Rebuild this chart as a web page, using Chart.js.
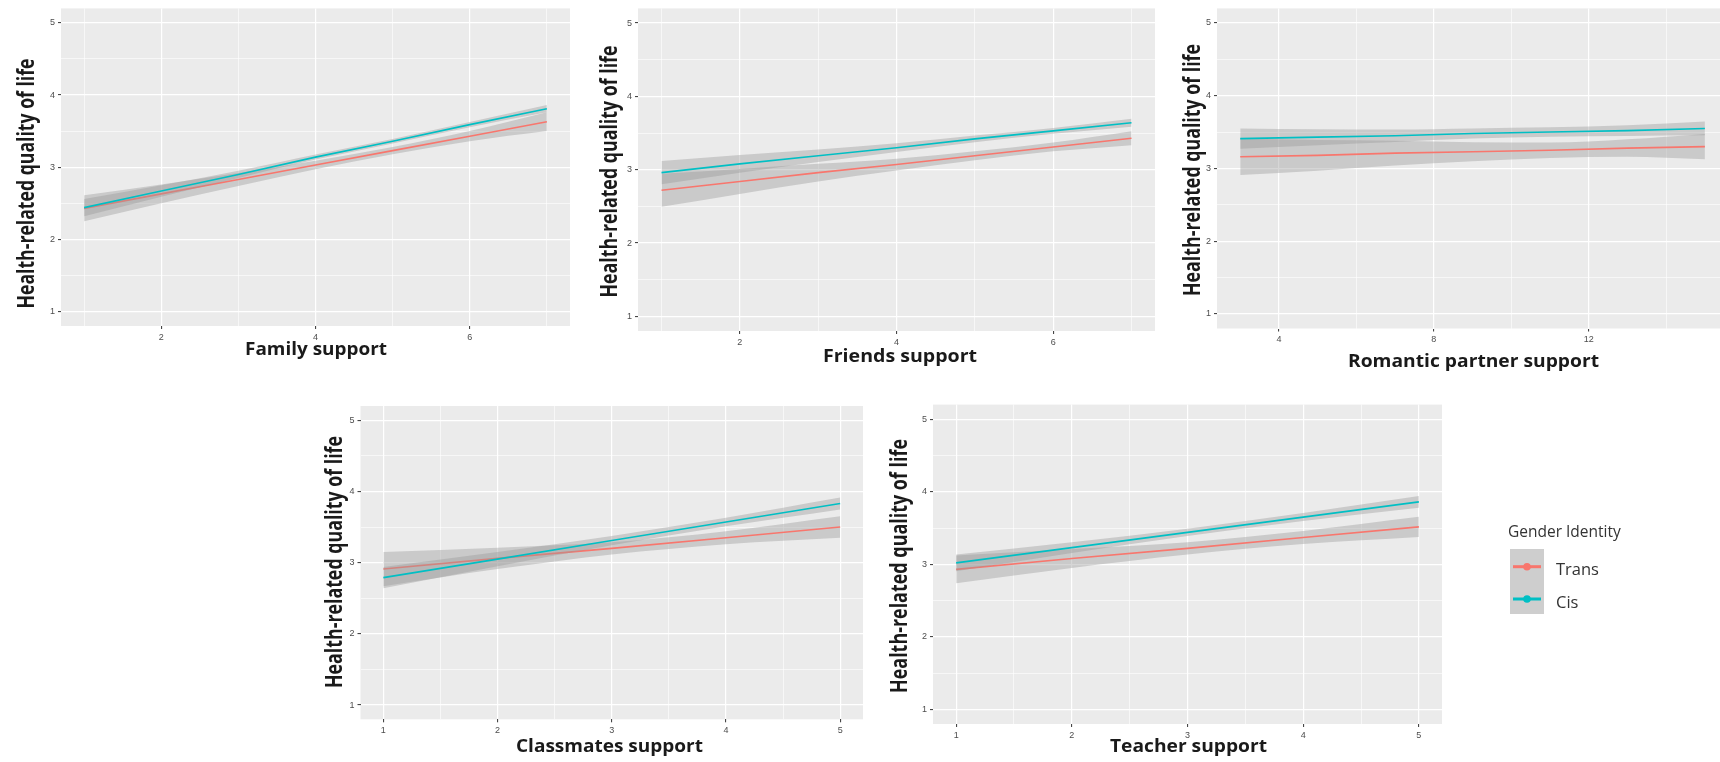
<!DOCTYPE html>
<html><head><meta charset="utf-8">
<script src="https://cdn.jsdelivr.net/npm/chart.js@4.4.1/dist/chart.umd.min.js"></script>
<style>
html,body{margin:0;padding:0;background:#fff;width:1720px;height:762px;overflow:hidden;position:relative;}
canvas{position:absolute;}
</style></head><body>
<canvas id="c1"></canvas><canvas id="c2"></canvas><canvas id="c3"></canvas><canvas id="c4"></canvas><canvas id="c5"></canvas>
<script>
// ---------------- DATA ----------------
const seriesNames = ['Trans', 'Cis'];
const legendTitle = 'Gender Identity';
const yTitle = 'Health-related quality of life';
const yMajorTicks = [1, 2, 3, 4, 5];
const yMinorTicks = [1.5, 2.5, 3.5, 4.5];

// Family support
const familyX = [1, 2, 3, 4, 5, 6, 7];
const familyTrans = [2.43, 2.63, 2.83, 3.03, 3.23, 3.43, 3.63];
const familyTransLower = [2.25, 2.50, 2.74, 2.97, 3.18, 3.36, 3.50];
const familyTransUpper = [2.61, 2.76, 2.92, 3.09, 3.28, 3.50, 3.76];
const familyCis = [2.44, 2.67, 2.90, 3.14, 3.36, 3.59, 3.81];
const familyCisLower = [2.32, 2.59, 2.85, 3.105, 3.33, 3.555, 3.76];
const familyCisUpper = [2.56, 2.75, 2.95, 3.175, 3.39, 3.625, 3.86];
const familyMajorTicks = [2, 4, 6];
const familyMinorTicks = [1, 3, 5, 7];

// Friends support
const friendsX = [1, 2, 3, 4, 5, 6, 7];
const friendsTrans = [2.72, 2.84, 2.96, 3.07, 3.19, 3.31, 3.43];
const friendsTransLower = [2.495, 2.67, 2.84, 2.99, 3.13, 3.25, 3.335];
const friendsTransUpper = [2.945, 3.01, 3.08, 3.15, 3.25, 3.37, 3.525];
const friendsCis = [2.96, 3.08, 3.19, 3.30, 3.42, 3.53, 3.64];
const friendsCisLower = [2.80, 2.96, 3.105, 3.24, 3.375, 3.49, 3.585];
const friendsCisUpper = [3.12, 3.20, 3.275, 3.36, 3.465, 3.57, 3.695];
const friendsMajorTicks = [2, 4, 6];
const friendsMinorTicks = [1, 3, 5, 7];

// Romantic partner support
const romanticX = [3, 5, 7, 9, 11, 13, 15];
const romanticTrans = [3.16, 3.18, 3.21, 3.23, 3.25, 3.28, 3.30];
const romanticTransLower = [2.91, 2.97, 3.04, 3.10, 3.145, 3.16, 3.125];
const romanticTransUpper = [3.41, 3.39, 3.38, 3.36, 3.355, 3.40, 3.475];
const romanticCis = [3.41, 3.43, 3.45, 3.48, 3.50, 3.52, 3.55];
const romanticCisLower = [3.27, 3.32, 3.365, 3.41, 3.435, 3.445, 3.455];
const romanticCisUpper = [3.55, 3.54, 3.535, 3.55, 3.565, 3.595, 3.645];
const romanticMajorTicks = [4, 8, 12];
const romanticMinorTicks = [6, 10, 14];

// Classmates support
const classX = [1, 2, 3, 4, 5];
const classTrans = [2.91, 3.06, 3.20, 3.35, 3.50];
const classTransLower = [2.67, 2.91, 3.115, 3.26, 3.35];
const classTransUpper = [3.15, 3.21, 3.285, 3.44, 3.65];
const classCis = [2.79, 3.05, 3.31, 3.57, 3.83];
const classCisLower = [2.64, 2.95, 3.245, 3.51, 3.745];
const classCisUpper = [2.94, 3.15, 3.375, 3.63, 3.915];
const classMajorTicks = [1, 2, 3, 4, 5];
const classMinorTicks = [1.5, 2.5, 3.5, 4.5];

// Teacher support
const teacherX = [1, 2, 3, 4, 5];
const teacherTrans = [2.93, 3.08, 3.22, 3.37, 3.515];
const teacherTransLower = [2.74, 2.95, 3.135, 3.28, 3.375];
const teacherTransUpper = [3.12, 3.21, 3.305, 3.46, 3.655];
const teacherCis = [3.02, 3.23, 3.44, 3.65, 3.86];
const teacherCisLower = [2.905, 3.155, 3.39, 3.595, 3.78];
const teacherCisUpper = [3.135, 3.305, 3.49, 3.705, 3.94];
const teacherMajorTicks = [1, 2, 3, 4, 5];
const teacherMinorTicks = [1.5, 2.5, 3.5, 4.5];

// ---------------- STYLE ----------------
const BG = '#EBEBEB';
const TRANS_COLOR = '#F8766D';
const CIS_COLOR = '#00BFC4';
const RIBBON = 'rgba(153,153,153,0.4)';
const TICK_FONT = {family: 'Liberation Sans', size: 9};
Chart.defaults.font.family = 'Liberation Sans';

function pts(xs, ys) { return xs.map((x, i) => ({x: x, y: ys[i]})); }

function drawTitle(ctx, t) {
  ctx.save();
  ctx.translate(t.x, t.y);
  if (t.rot) ctx.rotate(-Math.PI / 2);
  ctx.font = 'bold ' + t.size + 'px "Open Sans"';
  const w = ctx.measureText(t.text).width;
  ctx.scale(t.len / w, t.perp || 1);
  ctx.textAlign = 'center';
  ctx.textBaseline = 'alphabetic';
  ctx.fillStyle = '#1A1A1A';
  ctx.fillText(t.text, 0, 0);
  ctx.restore();
}

function drawLegend(ctx, ox, oy) {
  ctx.save();
  ctx.fillStyle = '#333333';
  ctx.font = '15.5px "Open Sans"';
  ctx.textAlign = 'left';
  ctx.textBaseline = 'alphabetic';
  ctx.fillText(legendTitle, 1508 - ox, 537 - oy);
  ctx.fillStyle = 'rgb(206,206,206)';
  ctx.fillRect(1510 - ox, 549 - oy, 34, 65);
  const items = [[seriesNames[0], TRANS_COLOR, 566.7], [seriesNames[1], CIS_COLOR, 599]];
  for (const [name, col, y] of items) {
    ctx.strokeStyle = col; ctx.lineWidth = 3;
    ctx.beginPath(); ctx.moveTo(1513 - ox, y - oy); ctx.lineTo(1541 - ox, y - oy); ctx.stroke();
    ctx.fillStyle = col;
    ctx.beginPath(); ctx.arc(1527 - ox, y - oy, 3.8, 0, Math.PI * 2); ctx.fill();
    ctx.fillStyle = '#333333';
    ctx.font = '16.5px "Open Sans"';
    ctx.fillText(name, 1556 - ox, y + 8.5 - oy);
  }
  ctx.restore();
}

function makePanel(p) {
  const cv = document.getElementById(p.id);
  cv.width = p.cw; cv.height = p.ch;
  cv.style.left = p.cx + 'px'; cv.style.top = p.cy + 'px';
  const ribbon = (data, fill) => ({data: data, borderWidth: 0, pointRadius: 0, backgroundColor: RIBBON,
    borderColor: 'rgba(0,0,0,0)', fill: fill, tension: 0.4, cubicInterpolationMode: 'monotone'});
  const line = (data, color, label) => ({label: label, data: data, borderColor: color, borderWidth: 1.6,
    pointRadius: 0, fill: false, tension: 0});
  const datasets = [
    line(pts(p.x, p.cis), CIS_COLOR, seriesNames[1]),
    ribbon(pts(p.x, p.cisU), false),
    ribbon(pts(p.x, p.cisL), '-1'),
    line(pts(p.x, p.trans), TRANS_COLOR, seriesNames[0]),
    ribbon(pts(p.x, p.transU), false),
    ribbon(pts(p.x, p.transL), '-1')
  ];
  const xAll = p.xMajor.concat(p.xMinor).sort((a, b) => a - b);
  const yAll = yMajorTicks.concat(yMinorTicks).sort((a, b) => a - b);
  const gridFor = (majors) => ({
    color: '#FFFFFF',
    lineWidth: c => (c.tick && majors.includes(c.tick.value)) ? 1.2 : 0.6,
    drawTicks: true, tickLength: 3, tickWidth: 1,
    tickColor: c => (c.tick && majors.includes(c.tick.value)) ? '#333333' : 'rgba(0,0,0,0)'
  });
  const deco = {
    id: 'deco' + p.id,
    beforeDraw(chart) {
      const a = chart.chartArea, ctx = chart.ctx;
      ctx.save(); ctx.fillStyle = BG; ctx.fillRect(a.left, a.top, a.right - a.left, a.bottom - a.top); ctx.restore();
    },
    afterDraw(chart) {
      const ctx = chart.ctx;
      drawTitle(ctx, {text: p.xTitle, x: p.xt[0] - p.cx, y: p.xt[1] - p.cy, size: 18, len: p.xt[2]});
      drawTitle(ctx, {text: yTitle, x: p.yt[0] - p.cx, y: p.yt[1] - p.cy, size: 18, len: p.yt[2], perp: 1.3, rot: true});
      if (p.legend) drawLegend(ctx, p.cx, p.cy);
    }
  };
  new Chart(cv, {
    type: 'line',
    data: {datasets: datasets},
    plugins: [deco],
    options: {
      responsive: false, animation: false, events: [],
      layout: {padding: {left: 0, top: p.padT, right: p.padR, bottom: 0}},
      plugins: {legend: {display: false}, tooltip: {enabled: false}, title: {display: false}},
      scales: {
        x: {
          type: 'linear', min: p.xmin, max: p.xmax,
          afterBuildTicks: ax => { ax.ticks = xAll.map(v => ({value: v})); },
          afterFit: ax => { ax.height = p.xAxisH; },
          ticks: {autoSkip: false, maxRotation: 0, minRotation: 0, padding: 3, color: '#4D4D4D', font: TICK_FONT,
            callback: v => p.xMajor.includes(v) ? String(v) : ''},
          grid: gridFor(p.xMajor),
          border: {display: false}
        },
        y: {
          type: 'linear', min: 0.8, max: 5.2,
          afterBuildTicks: ax => { ax.ticks = yAll.map(v => ({value: v})); },
          afterFit: ax => { ax.width = p.yAxisW; },
          ticks: {autoSkip: false, padding: 3, color: '#4D4D4D', font: TICK_FONT,
            callback: v => yMajorTicks.includes(v) ? String(v) : ''},
          grid: gridFor(yMajorTicks),
          border: {display: false}
        }
      }
    }
  });
}

const panels = [
  {id: 'c1', cx: 0, cy: 0, cw: 575, ch: 380, yAxisW: 61, padT: 7.5, padR: 5, xAxisH: 54,
   xmin: 0.7, xmax: 7.3, x: familyX, trans: familyTrans, transL: familyTransLower, transU: familyTransUpper,
   cis: familyCis, cisL: familyCisLower, cisU: familyCisUpper, xMajor: familyMajorTicks, xMinor: familyMinorTicks,
   xTitle: 'Family support', xt: [316, 355, 142], yt: [33.5, 183.5, 250]},
  {id: 'c2', cx: 580, cy: 0, cw: 585, ch: 380, yAxisW: 58, padT: 7.5, padR: 10, xAxisH: 49,
   xmin: 0.7, xmax: 7.3, x: friendsX, trans: friendsTrans, transL: friendsTransLower, transU: friendsTransUpper,
   cis: friendsCis, cisL: friendsCisLower, cisU: friendsCisUpper, xMajor: friendsMajorTicks, xMinor: friendsMinorTicks,
   xTitle: 'Friends support', xt: [900, 361.5, 154], yt: [616.5, 171.5, 252]},
  {id: 'c3', cx: 1165, cy: 0, cw: 555, ch: 380, yAxisW: 52, padT: 7.5, padR: 0, xAxisH: 51.5,
   xmin: 2.4, xmax: 15.39, x: romanticX, trans: romanticTrans, transL: romanticTransLower, transU: romanticTransUpper,
   cis: romanticCis, cisL: romanticCisLower, cisU: romanticCisUpper, xMajor: romanticMajorTicks, xMinor: romanticMinorTicks,
   xTitle: 'Romantic partner support', xt: [1473.5, 366.5, 251], yt: [1199.5, 170, 252]},
  {id: 'c4', cx: 300, cy: 380, cw: 570, ch: 382, yAxisW: 60.5, padT: 26, padR: 7, xAxisH: 42.7,
   xmin: 0.8, xmax: 5.2, x: classX, trans: classTrans, transL: classTransLower, transU: classTransUpper,
   cis: classCis, cisL: classCisLower, cisU: classCisUpper, xMajor: classMajorTicks, xMinor: classMinorTicks,
   xTitle: 'Classmates support', xt: [609.5, 751.5, 187], yt: [341.5, 562, 252]},
  {id: 'c5', cx: 875, cy: 380, cw: 845, ch: 382, yAxisW: 58, padT: 24.6, padR: 278, xAxisH: 38,
   xmin: 0.8, xmax: 5.2, x: teacherX, trans: teacherTrans, transL: teacherTransLower, transU: teacherTransUpper,
   cis: teacherCis, cisL: teacherCisLower, cisU: teacherCisUpper, xMajor: teacherMajorTicks, xMinor: teacherMinorTicks,
   xTitle: 'Teacher support', xt: [1188.5, 751.5, 157], yt: [906.5, 566, 254], legend: true}
];
panels.forEach(makePanel);
</script>
</body></html>
